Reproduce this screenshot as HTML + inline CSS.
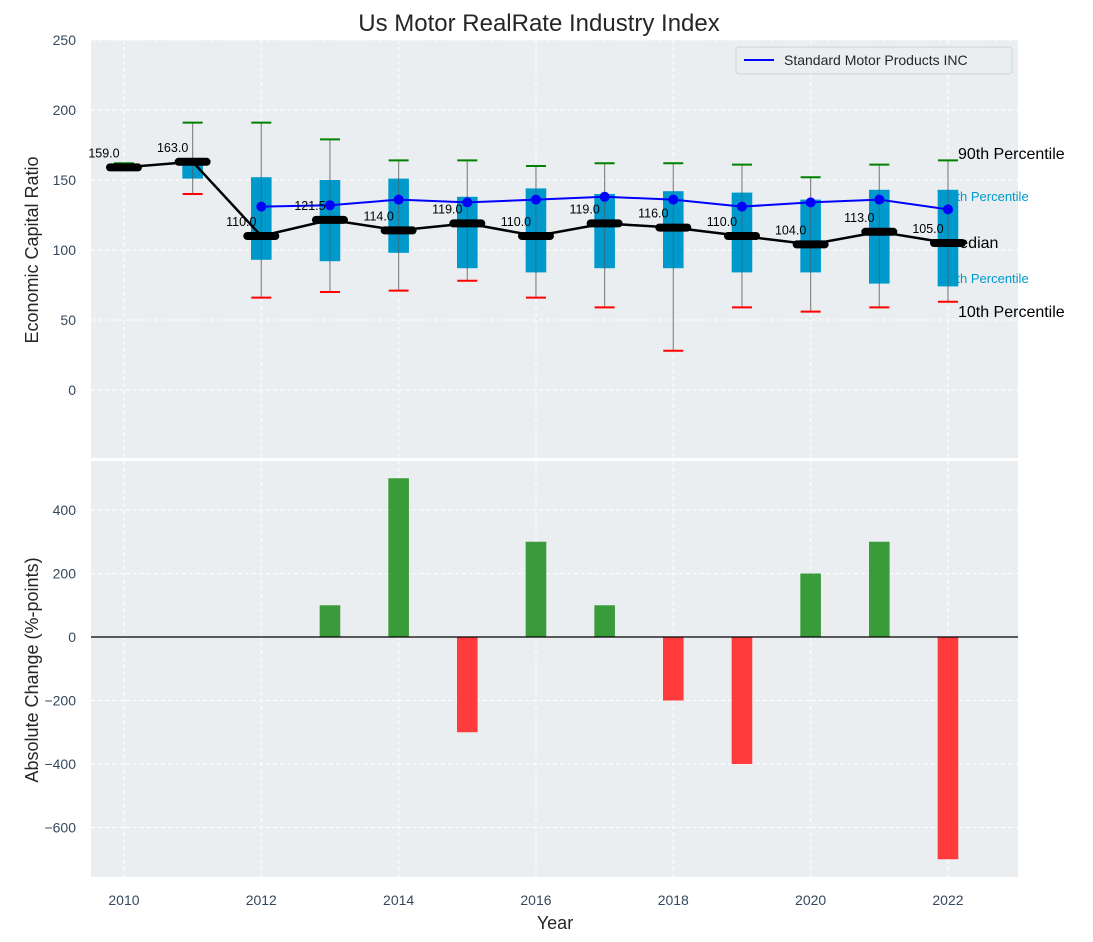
<!DOCTYPE html>
<html><head><meta charset="utf-8">
<style>
body{margin:0;background:#fff;}
svg{display:block;font-family:"Liberation Sans","DejaVu Sans",sans-serif;}
.tick{fill:#34495e;font-size:14px;}
</style></head>
<body>
<svg id="chart" width="1093" height="942" viewBox="0 0 1093 942" xmlns="http://www.w3.org/2000/svg">
<text x="539" y="31" text-anchor="middle" font-size="24" fill="#262626">Us Motor RealRate Industry Index</text>
<rect x="91" y="40" width="927" height="418" fill="#eaeef0"/>
<rect x="91" y="461" width="927" height="416" fill="#eaeef0"/>
<g id="grid"></g>
<g id="top"></g>
<g id="bottom"></g>
<text transform="translate(38,250) rotate(-90)" text-anchor="middle" font-size="18" fill="#262626">Economic Capital Ratio</text>
<text transform="translate(38,670) rotate(-90)" text-anchor="middle" font-size="18" fill="#262626">Absolute Change (%-points)</text>
<text x="555" y="929" text-anchor="middle" font-size="18" fill="#262626">Year</text>
<g>
<rect x="736" y="47" width="276" height="27" rx="3" fill="#eaeef0" stroke="#cfd4d8"/>
<line x1="744" y1="60" x2="774" y2="60" stroke="#0000ff" stroke-width="2"/>
<text x="784" y="65" font-size="14" fill="#262626">Standard Motor Products INC</text>
</g>
</svg>
<script>
const years=[2010,2011,2012,2013,2014,2015,2016,2017,2018,2019,2020,2021,2022];
const medians=[159,163,110,121.5,114,119,110,119,116,110,104,113,105];
const p90=[162,191,191,179,164,164,160,162,162,161,152,161,164];
const p10=[null,140,66,70,71,78,66,59,28,59,56,59,63];
const q75=[null,161,152,150,151,138,144,140,142,141,136,143,143];
const q25=[null,151,93,92,98,87,84,87,87,84,84,76,74];
const means=[null,null,131,132,136,134,136,138,136,131,134,136,129];
const changeYears=[2013,2014,2015,2016,2017,2018,2019,2020,2021,2022];
const changes=[100,500,-300,300,100,-200,-400,200,300,-700];
const topTicks=[0,50,100,150,200,250];
const botTicks=[-600,-400,-200,0,200,400];
const xTicks=[2010,2012,2014,2016,2018,2020,2022];

const NS="http://www.w3.org/2000/svg";
const X=v=>91+(v-2009.52)/(2023.02-2009.52)*927;
const Y1=v=>390-v*1.4;
const Y2=v=>637-v*0.3175;
function mk(parent,tag,attrs,text){const e=document.createElementNS(NS,tag);for(const k in attrs)e.setAttribute(k,attrs[k]);if(text!==undefined)e.textContent=text;document.getElementById(parent).appendChild(e);return e;}

xTicks.forEach(t=>{
  const g1=mk('grid','line',{x1:X(t),x2:X(t),y1:40,y2:458,stroke:'#fff','stroke-dasharray':'4,3'});
  
  
  const g2=mk('grid','line',{x1:X(t),x2:X(t),y1:461,y2:877,stroke:'#fff','stroke-dasharray':'4,3'});
  
  
  const l=mk('grid','text',{x:X(t),y:905,'text-anchor':'middle',class:'tick'},String(t));
  
  
});
topTicks.forEach(t=>{
  const g=mk('grid','line',{x1:91,x2:1018,y1:Y1(t),y2:Y1(t),stroke:'#fff','stroke-dasharray':'4,3'});
  
  
  const l=mk('grid','text',{x:76,y:Y1(t)+5,'text-anchor':'end',class:'tick'},String(t));
  
  
});
botTicks.forEach(t=>{
  const g=mk('grid','line',{x1:91,x2:1018,y1:Y2(t),y2:Y2(t),stroke:'#fff','stroke-dasharray':'4,3'});
  
  
  const l=mk('grid','text',{x:76,y:Y2(t)+5,'text-anchor':'end',class:'tick'},(t<0?'\u2212'+(-t):String(t)));
  
  
});

const last=years.length-1;
const lx=X(years[last])+10;
[['90th Percentile',159,16,'#000',lx],['75th Percentile',201,13,'#0099cc',lx-16],['Median',248,16,'#000',lx-12],['25th Percentile',283,13,'#0099cc',lx-16],['10th Percentile',317,16,'#000',lx]].forEach(r=>{
  const t=mk('top','text',{x:r[4],y:r[1],'font-size':r[2],fill:r[3]},r[0]);
  
  
});

const bw=0.3*68.67;
years.forEach((y,i)=>{
  const cx=X(y);
  const lo=p10[i]!==null?p10[i]:medians[i];
  const w=mk('top','line',{x1:cx,x2:cx,y1:Y1(p90[i]),y2:Y1(lo),stroke:'#888','stroke-width':1.2});
  
  
  if(q75[i]!==null){
    const b=mk('top','rect',{x:cx-bw/2,y:Y1(q75[i]),width:bw,height:Y1(q25[i])-Y1(q75[i]),fill:'#0099cc'});
    
    
    const w2=mk('top','line',{x1:cx,x2:cx,y1:Y1(q75[i]),y2:Y1(q25[i]),stroke:'#555','stroke-width':1,opacity:0.6});
    
    
  }
  const c1=mk('top','line',{x1:cx-10,x2:cx+10,y1:Y1(p90[i]),y2:Y1(p90[i]),stroke:'#008000','stroke-width':2});
  
  
  if(p10[i]!==null){
    const c2=mk('top','line',{x1:cx-10,x2:cx+10,y1:Y1(p10[i]),y2:Y1(p10[i]),stroke:'#ff0000','stroke-width':2});
    
    
  }
});
let mp=[];years.forEach((y,i)=>{if(means[i]!==null)mp.push(X(y)+','+Y1(means[i]));});
const ml=mk('top','polyline',{points:mp.join(' '),fill:'none',stroke:'#0000ff','stroke-width':2});


years.forEach((y,i)=>{if(means[i]!==null){
  const d=mk('top','circle',{cx:X(y),cy:Y1(means[i]),r:5,fill:'#0000ff'});
  
  
}});
const medl=mk('top','polyline',{points:years.map((y,i)=>X(y)+','+Y1(medians[i])).join(' '),fill:'none',stroke:'#000','stroke-width':2.5});


years.forEach((y,i)=>{
  const cx=X(y);
  const m=mk('top','line',{x1:cx-14,x2:cx+14,y1:Y1(medians[i]),y2:Y1(medians[i]),stroke:'#000','stroke-width':8,'stroke-linecap':'round'});
  
  
  const t=mk('top','text',{x:cx-20,y:Y1(medians[i])-10,'text-anchor':'middle','font-size':12.5,fill:'#000'},medians[i].toFixed(1));
  
  
});

changeYears.forEach((y,i)=>{
  const v=changes[i];
  const b=mk('bottom','rect',{x:X(y)-bw/2,y:Math.min(Y2(v),Y2(0)),width:bw,height:Math.abs(Y2(v)-Y2(0)),fill:v>=0?'#3a9b3a':'#ff3b3b'});
  
  
});
const z=mk('bottom','line',{x1:91,x2:1018,y1:Y2(0),y2:Y2(0),stroke:'#000','stroke-width':1.2});


</script>
</body></html>
